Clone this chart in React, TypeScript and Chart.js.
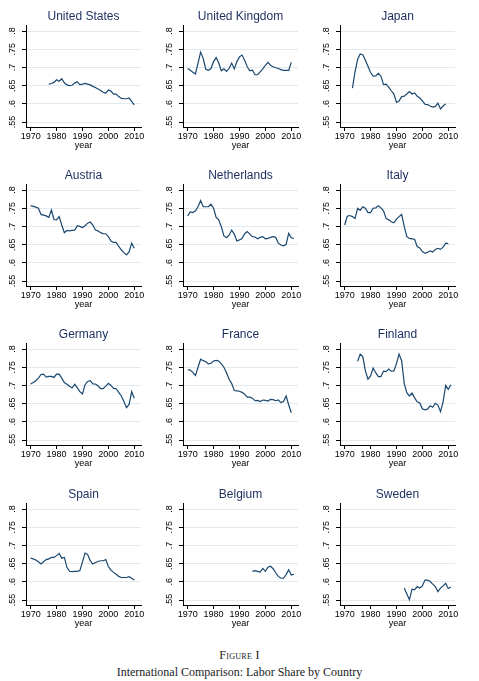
import React, { useEffect, useRef } from 'react';
import { Chart, registerables } from 'chart.js';

Chart.register(...registerables);

// ---- tick labels ----
const yTicks = [0.55, 0.6, 0.65, 0.7, 0.75, 0.8];
const yTickLabels = ['.55', '.6', '.65', '.7', '.75', '.8'];
const xTicks = [1970, 1980, 1990, 2000, 2010];

// ---- series (labor share, first year + yearly values) ----
const usStart = 1977;
const usShare = [0.654, 0.656, 0.659, 0.666, 0.662, 0.669, 0.658, 0.652, 0.650, 0.651, 0.657, 0.661, 0.653, 0.654, 0.656, 0.654, 0.652, 0.648, 0.645, 0.641, 0.637, 0.632, 0.629, 0.638, 0.635, 0.627, 0.627, 0.620, 0.615, 0.614, 0.614, 0.616, 0.607, 0.597];

const ukStart = 1970;
const ukShare = [0.697, 0.692, 0.687, 0.682, 0.712, 0.742, 0.725, 0.695, 0.692, 0.697, 0.716, 0.727, 0.712, 0.691, 0.696, 0.689, 0.697, 0.712, 0.696, 0.716, 0.729, 0.734, 0.720, 0.702, 0.691, 0.693, 0.680, 0.680, 0.688, 0.696, 0.706, 0.714, 0.706, 0.702, 0.699, 0.697, 0.694, 0.692, 0.692, 0.692, 0.714];

const jpStart = 1973;
const jpShare = [0.643, 0.688, 0.722, 0.737, 0.735, 0.720, 0.703, 0.686, 0.676, 0.677, 0.684, 0.676, 0.653, 0.654, 0.646, 0.636, 0.627, 0.604, 0.608, 0.620, 0.621, 0.627, 0.634, 0.627, 0.630, 0.621, 0.616, 0.608, 0.599, 0.598, 0.594, 0.591, 0.593, 0.602, 0.586, 0.594, 0.600];

const atStart = 1970;
const atShare = [0.757, 0.755, 0.753, 0.750, 0.733, 0.731, 0.729, 0.725, 0.745, 0.719, 0.718, 0.727, 0.704, 0.683, 0.689, 0.688, 0.689, 0.690, 0.702, 0.700, 0.697, 0.702, 0.709, 0.712, 0.704, 0.690, 0.688, 0.683, 0.680, 0.680, 0.672, 0.660, 0.656, 0.656, 0.645, 0.636, 0.628, 0.622, 0.630, 0.654, 0.640];

const nlStart = 1970;
const nlShare = [0.729, 0.740, 0.738, 0.743, 0.754, 0.771, 0.754, 0.754, 0.754, 0.761, 0.750, 0.725, 0.718, 0.699, 0.674, 0.669, 0.676, 0.690, 0.679, 0.660, 0.663, 0.667, 0.680, 0.686, 0.679, 0.672, 0.671, 0.666, 0.670, 0.672, 0.666, 0.667, 0.670, 0.672, 0.670, 0.654, 0.649, 0.647, 0.650, 0.681, 0.669, 0.667];

const itStart = 1970;
const itShare = [0.704, 0.728, 0.730, 0.727, 0.722, 0.750, 0.744, 0.754, 0.750, 0.738, 0.738, 0.750, 0.751, 0.757, 0.751, 0.743, 0.722, 0.718, 0.713, 0.710, 0.720, 0.727, 0.733, 0.700, 0.672, 0.667, 0.666, 0.665, 0.645, 0.641, 0.631, 0.626, 0.629, 0.633, 0.630, 0.637, 0.640, 0.637, 0.643, 0.654, 0.653];

const deStart = 1970;
const deShare = [0.704, 0.708, 0.713, 0.720, 0.730, 0.731, 0.723, 0.725, 0.725, 0.722, 0.731, 0.731, 0.720, 0.708, 0.703, 0.698, 0.693, 0.703, 0.694, 0.683, 0.677, 0.702, 0.711, 0.713, 0.704, 0.704, 0.699, 0.691, 0.691, 0.698, 0.706, 0.700, 0.692, 0.691, 0.681, 0.671, 0.656, 0.639, 0.648, 0.683, 0.665];

const frStart = 1970;
const frShare = [0.743, 0.742, 0.736, 0.727, 0.750, 0.772, 0.768, 0.765, 0.759, 0.761, 0.767, 0.769, 0.767, 0.759, 0.750, 0.735, 0.717, 0.705, 0.686, 0.685, 0.684, 0.681, 0.676, 0.668, 0.668, 0.665, 0.658, 0.659, 0.656, 0.660, 0.659, 0.657, 0.662, 0.661, 0.658, 0.660, 0.653, 0.656, 0.671, 0.647, 0.625];

const fiStart = 1975;
const fiShare = [0.766, 0.786, 0.779, 0.740, 0.717, 0.726, 0.748, 0.735, 0.724, 0.724, 0.739, 0.738, 0.745, 0.739, 0.740, 0.760, 0.786, 0.768, 0.705, 0.680, 0.671, 0.679, 0.666, 0.655, 0.652, 0.636, 0.633, 0.635, 0.644, 0.640, 0.651, 0.646, 0.628, 0.655, 0.700, 0.689, 0.702];

const esStart = 1970;
const esShare = [0.665, 0.663, 0.660, 0.655, 0.649, 0.655, 0.661, 0.663, 0.667, 0.667, 0.672, 0.678, 0.665, 0.667, 0.640, 0.629, 0.628, 0.629, 0.629, 0.631, 0.655, 0.679, 0.675, 0.658, 0.649, 0.653, 0.656, 0.658, 0.658, 0.661, 0.642, 0.632, 0.626, 0.621, 0.615, 0.612, 0.612, 0.612, 0.614, 0.610, 0.605];

const beStart = 1995;
const beShare = [0.629, 0.631, 0.629, 0.627, 0.637, 0.629, 0.640, 0.643, 0.636, 0.625, 0.615, 0.610, 0.610, 0.620, 0.633, 0.619, 0.621];

const seStart = 1993;
const seShare = [0.583, 0.567, 0.551, 0.580, 0.578, 0.587, 0.583, 0.589, 0.605, 0.605, 0.601, 0.594, 0.587, 0.573, 0.583, 0.589, 0.596, 0.582, 0.586];

const countryNames = ['United States', 'United Kingdom', 'Japan', 'Austria', 'Netherlands', 'Italy', 'Germany', 'France', 'Finland', 'Spain', 'Belgium', 'Sweden'];
const countryStarts = [usStart, ukStart, jpStart, atStart, nlStart, itStart, deStart, frStart, fiStart, esStart, beStart, seStart];
const countrySeries = [usShare, ukShare, jpShare, atShare, nlShare, itShare, deShare, frShare, fiShare, esShare, beShare, seShare];

// ---- styling / layout ----
const LINE = '#1a476f';
const GRID = '#e2eaee';
const TITLE = '#1c2d5e';
const SANS = '"Liberation Sans", Arial, Helvetica, sans-serif';
const colLeft = [0, 157, 314];
const rowTop = [0, 159, 318, 478];
const CW = 153;
const CH = 151;

function Panel({ title, start, values, left, top }: { title: string; start: number; values: number[]; left: number; top: number }) {
  const ref = useRef<HTMLCanvasElement>(null);
  useEffect(() => {
    if (!ref.current) return;
    const pts = values.map((v, i) => ({ x: start + i, y: v }));
    const axisFont = { family: SANS, size: 9 };
    const chart = new Chart(ref.current, {
      type: 'line',
      data: {
        datasets: [
          {
            data: pts,
            borderColor: LINE,
            borderWidth: 1.2,
            pointRadius: 0,
            fill: false,
            tension: 0,
          },
        ],
      },
      options: {
        animation: false,
        responsive: false,
        layout: { padding: { left: 0, right: 12, top: 0, bottom: 0 } },
        plugins: {
          legend: { display: false },
          tooltip: { enabled: false },
          title: {
            display: true,
            fullSize: false,
            text: title,
            color: TITLE,
            font: { family: SANS, size: 12, weight: 'normal' },
            padding: { top: 9, bottom: 1.6 },
          },
        },
        scales: {
          x: {
            type: 'linear',
            min: 1968.2,
            max: 2012.6,
            afterBuildTicks: (s: any) => {
              s.ticks = xTicks.map((v) => ({ value: v }));
            },
            afterFit: (s: any) => {
              s.height = 24;
            },
            ticks: {
              autoSkip: false,
              minRotation: 0,
              maxRotation: 0,
              padding: 0,
              color: '#000',
              font: axisFont,
              callback: (v: any) => String(v),
            },
            grid: {
              drawOnChartArea: false,
              drawTicks: true,
              tickLength: 4,
              tickColor: '#000',
            },
            border: { display: true, color: '#000', width: 1 },
            title: { display: true, text: 'year', color: '#000', font: axisFont, padding: 0 },
          },
          y: {
            type: 'linear',
            min: 0.5365,
            max: 0.8165,
            afterBuildTicks: (s: any) => {
              s.ticks = yTicks.map((v) => ({ value: v }));
            },
            afterFit: (s: any) => {
              s.width = 26;
            },
            ticks: {
              autoSkip: false,
              minRotation: 90,
              maxRotation: 90,
              crossAlign: 'center',
              padding: 3,
              color: '#000',
              font: axisFont,
              callback: (v: any) => {
                const i = yTicks.findIndex((t) => Math.abs(t - Number(v)) < 1e-6);
                return i >= 0 ? yTickLabels[i] : '';
              },
            },
            grid: {
              color: GRID,
              lineWidth: 1,
              drawTicks: true,
              tickLength: 4,
              tickColor: '#000',
            },
            border: { display: true, color: '#000', width: 1 },
          },
        },
      } as any,
    });
    return () => chart.destroy();
  }, [title, start, values]);
  return (
    <canvas
      ref={ref}
      width={CW}
      height={CH}
      style={{ position: 'absolute', left, top, width: CW, height: CH }}
    />
  );
}

export default function App() {
  return (
    <div style={{ position: 'absolute', left: 0, top: 0, width: 479, height: 681, background: '#fff', overflow: 'hidden' }}>
      {countryNames.map((name, i) => (
        <Panel
          key={name}
          title={name}
          start={countryStarts[i]}
          values={countrySeries[i]}
          left={colLeft[i % 3]}
          top={rowTop[Math.floor(i / 3)]}
        />
      ))}
      <div
        style={{
          position: 'absolute',
          left: 0,
          width: 479,
          top: 647,
          textAlign: 'center',
          fontFamily: '"Liberation Serif", "Times New Roman", serif',
          fontSize: 12,
          lineHeight: '16px',
          fontVariant: 'small-caps',
          color: '#222',
          letterSpacing: '0.3px',
        }}
      >
        Figure I
      </div>
      <div
        style={{
          position: 'absolute',
          left: 0,
          width: 479,
          top: 664,
          textAlign: 'center',
          fontFamily: '"Liberation Serif", "Times New Roman", serif',
          fontSize: 12,
          lineHeight: '16px',
          color: '#222',
        }}
      >
        International Comparison: Labor Share by Country
      </div>
    </div>
  );
}
